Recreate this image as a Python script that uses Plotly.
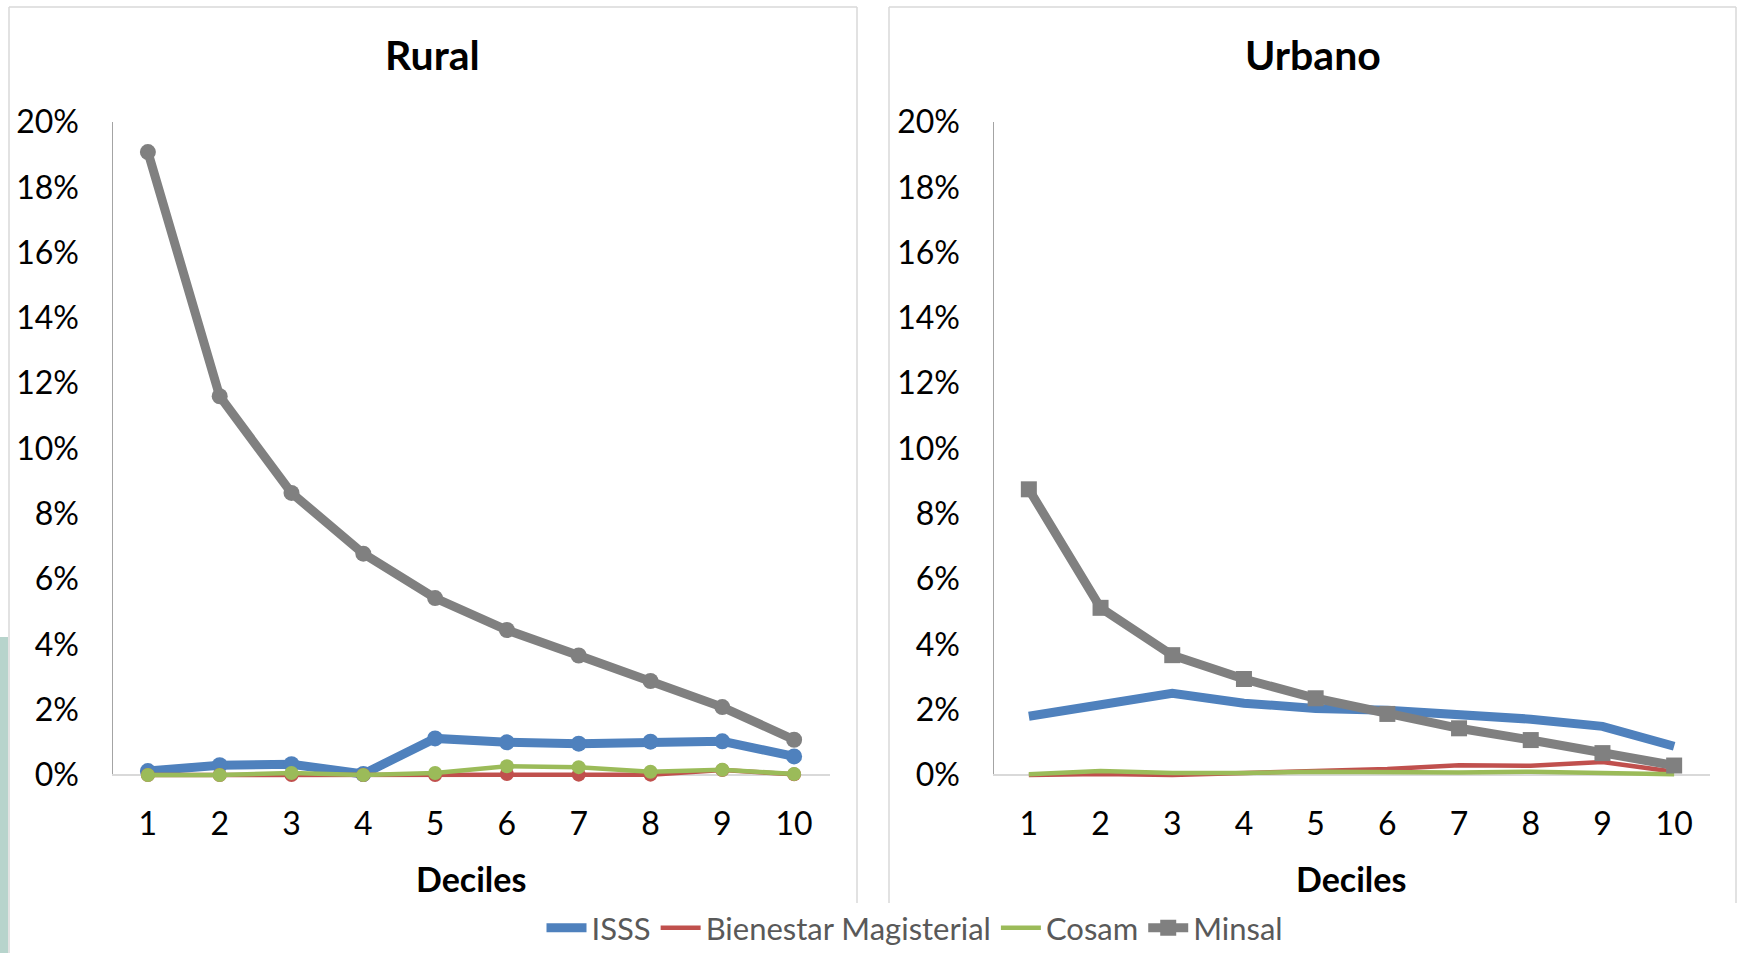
import plotly.graph_objects as go

W, H = 1737, 953

deciles = [1, 2, 3, 4, 5, 6, 7, 8, 9, 10]
series_names = ["ISSS", "Bienestar Magisterial", "Cosam", "Minsal"]
series_colors = ["#4f81bd", "#c0504d", "#9bbb59", "#808080"]

# Rural (percent)
rural_isss = [0.12, 0.30, 0.33, 0.03, 1.12, 1.00, 0.96, 1.02, 1.03, 0.57]
rural_bienestar = [0.00, 0.00, 0.00, 0.00, 0.00, 0.03, 0.01, 0.01, 0.15, 0.02]
rural_cosam = [0.00, 0.00, 0.06, 0.00, 0.06, 0.27, 0.24, 0.10, 0.16, 0.03]
rural_minsal = [19.08, 11.60, 8.64, 6.78, 5.42, 4.44, 3.66, 2.88, 2.08, 1.08]

# Urbano (percent)
urb_isss = [1.80, 2.18, 2.50, 2.20, 2.04, 1.98, 1.84, 1.71, 1.49, 0.88]
urb_bienestar = [0.00, 0.03, 0.00, 0.05, 0.10, 0.18, 0.30, 0.28, 0.40, 0.10]
urb_cosam = [0.02, 0.12, 0.06, 0.06, 0.10, 0.08, 0.08, 0.10, 0.06, 0.02]
urb_minsal = [8.75, 5.12, 3.67, 2.94, 2.35, 1.87, 1.43, 1.07, 0.67, 0.29]

panel_titles = ["Rural", "Urbano"]
x_title = "Deciles"
y_ticks = [0, 2, 4, 6, 8, 10, 12, 14, 16, 18, 20]
y_ticktext = ["%d%%" % v for v in y_ticks]

FONT = "Lato"
def px(x):
    return x / W
def py(y):
    return 1 - y / H

fig = go.Figure()

rural = [rural_isss, rural_bienestar, rural_cosam, rural_minsal]
urb = [urb_isss, urb_bienestar, urb_cosam, urb_minsal]
widths = [9, 4.5, 4.5, 9]
rmsize = [16, 14, 14, 16]

for i, name in enumerate(series_names):
    fig.add_trace(go.Scatter(
        x=deciles, y=rural[i], name=name, mode="lines+markers",
        line=dict(color=series_colors[i], width=widths[i]),
        marker=dict(symbol="circle", size=rmsize[i], color=series_colors[i]),
        xaxis="x", yaxis="y", showlegend=False, cliponaxis=False))

for i, name in enumerate(series_names):
    if name == "Minsal":
        mode = "lines+markers"
    else:
        mode = "lines"
    fig.add_trace(go.Scatter(
        x=deciles, y=urb[i], name=name, mode=mode,
        line=dict(color=series_colors[i], width=widths[i]),
        marker=dict(symbol="square", size=16, color=series_colors[i]),
        xaxis="x2", yaxis="y2", showlegend=True, cliponaxis=False))

# geometry (pixels)
y0px, y20px = 775, 122
neg = 0.4
unit = (y0px - y20px) / 20.0
ybot = y0px + neg * unit
ydom = [py(ybot), py(y20px)]
xstand = 14

axis_common = dict(
    showgrid=False, ticks="", showline=False,
    tickfont=dict(family=FONT, size=32, color="#000000"),
)

fig.update_layout(
    width=W, height=H,
    margin=dict(l=0, r=0, t=0, b=0, autoexpand=False),
    paper_bgcolor="white", plot_bgcolor="white",
    xaxis=dict(domain=[px(112), px(830)], range=[0.5, 10.5], tickvals=deciles,
               zeroline=False, ticklabelstandoff=xstand, anchor="y", **axis_common),
    yaxis=dict(domain=ydom, range=[-neg, 20], tickvals=y_ticks, ticktext=y_ticktext,
               zeroline=True, zerolinecolor="#d9d9d9", zerolinewidth=1.5,
               ticklabelstandoff=32, anchor="x", **axis_common),
    xaxis2=dict(domain=[px(993), px(1710)], range=[0.5, 10.5], tickvals=deciles,
                zeroline=False, ticklabelstandoff=xstand, anchor="y2", **axis_common),
    yaxis2=dict(domain=ydom, range=[-neg, 20], tickvals=y_ticks, ticktext=y_ticktext,
                zeroline=True, zerolinecolor="#d9d9d9", zerolinewidth=1.5,
                ticklabelstandoff=32, anchor="x2", **axis_common),
    legend=dict(orientation="h", x=px(915), xanchor="center", y=py(928), yanchor="middle",
                font=dict(family=FONT, size=31, color="#595959"),
                itemwidth=40, tracegroupgap=0, bgcolor="rgba(0,0,0,0)"),
    showlegend=True,
)

shapes = []
# panel borders
panels = [(9, 857, 953), (889, 1736, 903)]
for (x0, x1, yb) in panels:
    shapes.append(dict(type="line", xref="paper", yref="paper", x0=px(x0), x1=px(x0), y0=py(7), y1=py(yb),
                       line=dict(color="#d9d9d9", width=1.5), layer="below"))
    shapes.append(dict(type="line", xref="paper", yref="paper", x0=px(x1), x1=px(x1), y0=py(7), y1=py(903),
                       line=dict(color="#d9d9d9", width=1.5), layer="below"))
    shapes.append(dict(type="line", xref="paper", yref="paper", x0=px(x0), x1=px(x1), y0=py(7), y1=py(7),
                       line=dict(color="#d9d9d9", width=1.5), layer="below"))
# left-edge strip artefact
shapes.append(dict(type="rect", xref="paper", yref="paper", x0=0, x1=px(8), y0=0, y1=py(637),
                   fillcolor="#b7d4cc", line=dict(width=0), layer="below"))
# y-axis lines
for xa, ya in [("x", "y"), ("x2", "y2")]:
    shapes.append(dict(type="line", xref=xa, yref=ya, x0=0.5, x1=0.5, y0=0, y1=20,
                       line=dict(color="#868686", width=1.5), layer="below"))
fig.update_layout(shapes=shapes)

annotations = []
for t, cx in zip(panel_titles, [432, 1313]):
    annotations.append(dict(text="<b>%s</b>" % t, x=px(cx), y=py(55), xref="paper", yref="paper",
                            showarrow=False, xanchor="center", yanchor="middle",
                            font=dict(family=FONT, size=41, color="#000000")))
for cx in [471, 1351]:
    annotations.append(dict(text="<b>%s</b>" % x_title, x=px(cx), y=py(878), xref="paper", yref="paper",
                            showarrow=False, xanchor="center", yanchor="middle",
                            font=dict(family=FONT, size=34, color="#000000")))
fig.update_layout(annotations=annotations)

fig.write_html("out.html", config={"displayModeBar": False},
               post_script="document.body.style.margin='0px';document.body.style.overflow='hidden';")
